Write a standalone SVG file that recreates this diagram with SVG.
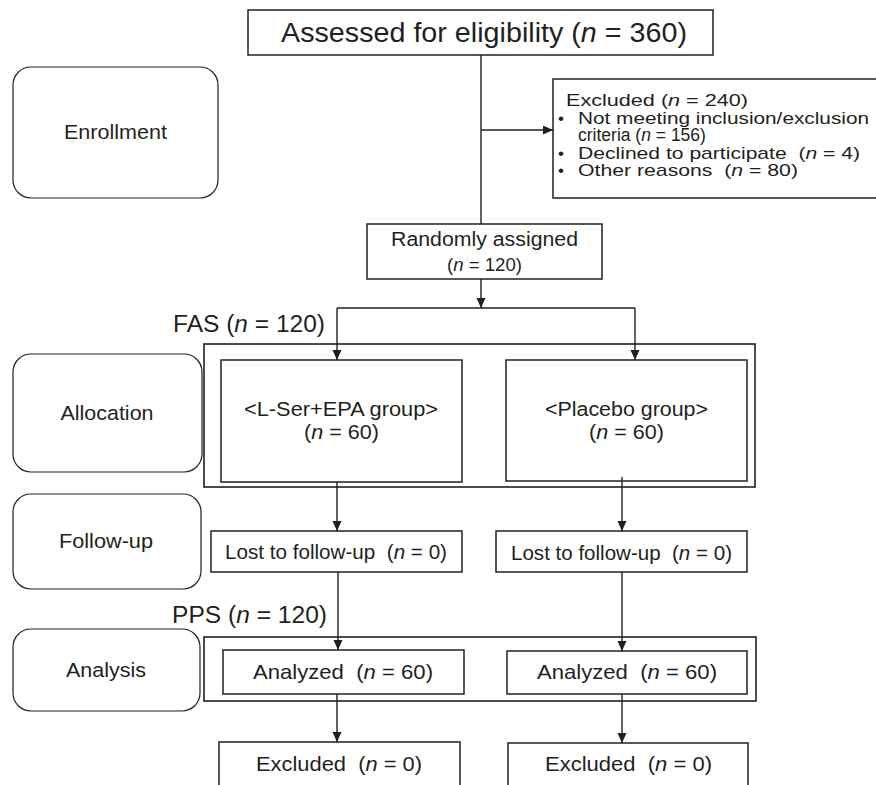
<svg xmlns="http://www.w3.org/2000/svg" width="876" height="785" viewBox="0 0 876 785">
<defs>
<marker id="arr" markerUnits="userSpaceOnUse" markerWidth="10" markerHeight="10" refX="10" refY="4.5" orient="auto"><path d="M0,0 L10,4.5 L0,9 z" fill="#231f20"/></marker>
<style>
.box{fill:#fff;stroke:#231f20;stroke-width:1.5}
.stage{fill:#fff;stroke:#231f20;stroke-width:1.2}
.frame{fill:none;stroke:#231f20;stroke-width:1.6}
.t{font-family:"Liberation Sans",Arial,sans-serif;fill:#231f20}
.c{text-anchor:middle}
.i{font-style:italic}
.ln{fill:none;stroke:#231f20;stroke-width:1.4}
</style>
</defs>
<rect width="876" height="785" fill="#fff"/>

<g id="stage-enrollment"><rect class="stage" x="13" y="67" width="205" height="131" rx="18"/><text class="t c" x="115.5" y="139" font-size="20.5" textLength="103" lengthAdjust="spacingAndGlyphs">Enrollment</text></g>
<g id="stage-allocation"><rect class="stage" x="13" y="354" width="189" height="118" rx="18"/><text class="t c" x="107" y="420" font-size="20.5" textLength="93" lengthAdjust="spacingAndGlyphs">Allocation</text></g>
<g id="stage-followup"><rect class="stage" x="13" y="494" width="188" height="95" rx="18"/><text class="t c" x="106" y="548" font-size="20.5" textLength="94" lengthAdjust="spacingAndGlyphs">Follow-up</text></g>
<g id="stage-analysis"><rect class="stage" x="13" y="629" width="187" height="82" rx="18"/><text class="t c" x="106" y="677" font-size="20.5" textLength="80" lengthAdjust="spacingAndGlyphs">Analysis</text></g>

<g id="assessed"><rect class="box" x="248" y="10" width="465" height="45"/><text class="t c" x="484" y="42" font-size="27" textLength="406" lengthAdjust="spacingAndGlyphs">Assessed for eligibility (<tspan class="i">n</tspan> = 360)</text></g>

<g id="excluded-top"><rect class="box" x="553" y="79" width="340" height="119"/>
<text class="t" x="566" y="106" font-size="17" textLength="182" lengthAdjust="spacingAndGlyphs">Excluded (<tspan class="i">n</tspan> = 240)</text>
<text class="t" x="558" y="124" font-size="17">•</text>
<text class="t" x="578" y="124" font-size="17" textLength="291" lengthAdjust="spacingAndGlyphs">Not meeting inclusion/exclusion</text>
<text class="t" x="578" y="141" font-size="17.5">criteria (<tspan class="i">n</tspan> = 156)</text>
<text class="t" x="558" y="159" font-size="17">•</text>
<text class="t" x="578" y="159" font-size="17" textLength="282" lengthAdjust="spacingAndGlyphs">Declined to participate&#160; (<tspan class="i">n</tspan> = 4)</text>
<text class="t" x="558" y="176" font-size="17">•</text>
<text class="t" x="578" y="176" font-size="17" textLength="220" lengthAdjust="spacingAndGlyphs">Other reasons&#160; (<tspan class="i">n</tspan> = 80)</text>
</g>

<g id="randomized"><rect class="box" x="367" y="224" width="235" height="55"/>
<text class="t c" x="484.5" y="246" font-size="19.5" textLength="187" lengthAdjust="spacingAndGlyphs">Randomly assigned</text>
<text class="t c" x="484.5" y="271" font-size="18.6">(<tspan class="i">n</tspan> = 120)</text></g>

<g id="fas"><rect class="frame" x="204" y="344" width="551" height="143"/><text class="t" x="173" y="332" font-size="23.5" textLength="152" lengthAdjust="spacingAndGlyphs">FAS (<tspan class="i">n</tspan> = 120)</text></g>

<g id="group-lser"><rect class="box" x="221" y="360" width="241" height="122"/>
<text class="t c" x="341" y="416" font-size="19.5" textLength="194" lengthAdjust="spacingAndGlyphs">&lt;L-Ser+EPA group&gt;</text>
<text class="t c" x="341.5" y="439" font-size="19.5" textLength="75" lengthAdjust="spacingAndGlyphs">(<tspan class="i">n</tspan> = 60)</text></g>

<g id="group-placebo"><rect class="box" x="506" y="360" width="241" height="121"/>
<text class="t c" x="626.5" y="416" font-size="19.5" textLength="163" lengthAdjust="spacingAndGlyphs">&lt;Placebo group&gt;</text>
<text class="t c" x="626.5" y="439" font-size="19.5" textLength="75" lengthAdjust="spacingAndGlyphs">(<tspan class="i">n</tspan> = 60)</text></g>

<g id="lost-lser"><rect class="box" x="211" y="531" width="251" height="41"/>
<text class="t c" x="336" y="559" font-size="20" textLength="222" lengthAdjust="spacingAndGlyphs">Lost to follow-up&#160; (<tspan class="i">n</tspan> = 0)</text></g>
<g id="lost-placebo"><rect class="box" x="496" y="531" width="251" height="41"/>
<text class="t c" x="621.5" y="560" font-size="20" textLength="221" lengthAdjust="spacingAndGlyphs">Lost to follow-up&#160; (<tspan class="i">n</tspan> = 0)</text></g>

<g id="pps"><rect class="frame" x="204" y="637" width="552" height="64"/><text class="t" x="172" y="623" font-size="23.5" textLength="155" lengthAdjust="spacingAndGlyphs">PPS (<tspan class="i">n</tspan> = 120)</text></g>

<g id="analyzed-lser"><rect class="box" x="223" y="650" width="241" height="44"/>
<text class="t c" x="343" y="679" font-size="21" textLength="180" lengthAdjust="spacingAndGlyphs">Analyzed&#160; (<tspan class="i">n</tspan> = 60)</text></g>
<g id="analyzed-placebo"><rect class="box" x="507" y="651" width="240" height="43"/>
<text class="t c" x="627" y="679" font-size="21" textLength="180" lengthAdjust="spacingAndGlyphs">Analyzed&#160; (<tspan class="i">n</tspan> = 60)</text></g>

<g id="excluded-lser"><rect class="box" x="219" y="742" width="241" height="60"/>
<text class="t c" x="339" y="771" font-size="21" textLength="166" lengthAdjust="spacingAndGlyphs">Excluded&#160; (<tspan class="i">n</tspan> = 0)</text></g>
<g id="excluded-placebo"><rect class="box" x="508" y="743" width="240" height="60"/>
<text class="t c" x="628.5" y="771" font-size="21" textLength="167" lengthAdjust="spacingAndGlyphs">Excluded&#160; (<tspan class="i">n</tspan> = 0)</text></g>

<g id="connectors" class="ln">
<path d="M481,55 V224"/>
<path d="M481,130 H553" marker-end="url(#arr)"/>
<path d="M481,279 V308" marker-end="url(#arr)"/>
<path d="M337,308 H635"/>
<path d="M337,308 V360" marker-end="url(#arr)"/>
<path d="M635,308 V360" marker-end="url(#arr)"/>
<path d="M337,482 V531" marker-end="url(#arr)"/>
<path d="M622,477 V531" marker-end="url(#arr)"/>
<path d="M338,572 V650" marker-end="url(#arr)"/>
<path d="M622,572 V651" marker-end="url(#arr)"/>
<path d="M337,694 V742" marker-end="url(#arr)"/>
<path d="M622,694 V743" marker-end="url(#arr)"/>
</g>
</svg>
